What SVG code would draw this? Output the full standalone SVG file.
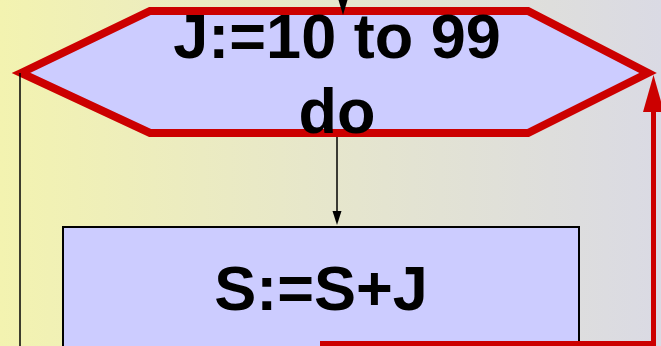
<svg xmlns="http://www.w3.org/2000/svg" width="661" height="346" viewBox="0 0 661 346">
  <defs>
    <linearGradient id="bg" x1="0" y1="0" x2="1" y2="0">
      <stop offset="0" stop-color="#f3f3b0"/>
      <stop offset="0.5" stop-color="#e6e6cc"/>
      <stop offset="1" stop-color="#dadae4"/>
    </linearGradient>
    <marker id="ab" markerWidth="10" markerHeight="14" refX="5" refY="14" orient="auto-start-reverse" markerUnits="userSpaceOnUse" viewBox="0 0 10 14">
      <path d="M0,0 L10,0 L5,14 Z" fill="#000"/>
    </marker>
  </defs>
  <style>
    .lbl { font-family: "Liberation Sans", Arial, sans-serif; font-weight: bold; font-size: 63px; fill: #000; text-anchor: middle; }
    .blk { stroke: #000; stroke-width: 1.5; fill: none; }
    .red { stroke: #cc0000; stroke-width: 5; fill: none; }
  </style>
  <rect x="0" y="0" width="661" height="346" fill="url(#bg)"/>

  <g id="loop">
    <polygon points="21,73 150,11 528,11 648,73 528,133 150,133" fill="#ccccff" stroke="#cc0000" stroke-width="8" stroke-linejoin="miter"/>
    <text class="lbl" x="337" y="58">J:=10 to 99</text>
    <text class="lbl" x="337" y="133">do</text>
  </g>

  <g id="body">
    <rect x="63" y="227" width="516" height="130" fill="#ccccff" stroke="#000" stroke-width="2"/>
    <text class="lbl" x="321" y="310">S:=S+J</text>
  </g>

  <g id="connectors">
    <line class="blk" x1="343" y1="-5" x2="343" y2="2"/>
    <path d="M338.5,0 L347.5,0 L343,15 Z" fill="#000"/>
    <line class="blk" x1="337" y1="137" x2="337" y2="213"/>
    <path d="M332.5,211 L341.5,211 L337,225 Z" fill="#000"/>
    <line class="blk" x1="20" y1="73" x2="20" y2="346"/>
    <polyline class="red" points="320,343.5 653.5,343.5 653.5,110"/>
    <path d="M643,112 L664,112 L653.5,75 Z" fill="#cc0000"/>
  </g>
</svg>
